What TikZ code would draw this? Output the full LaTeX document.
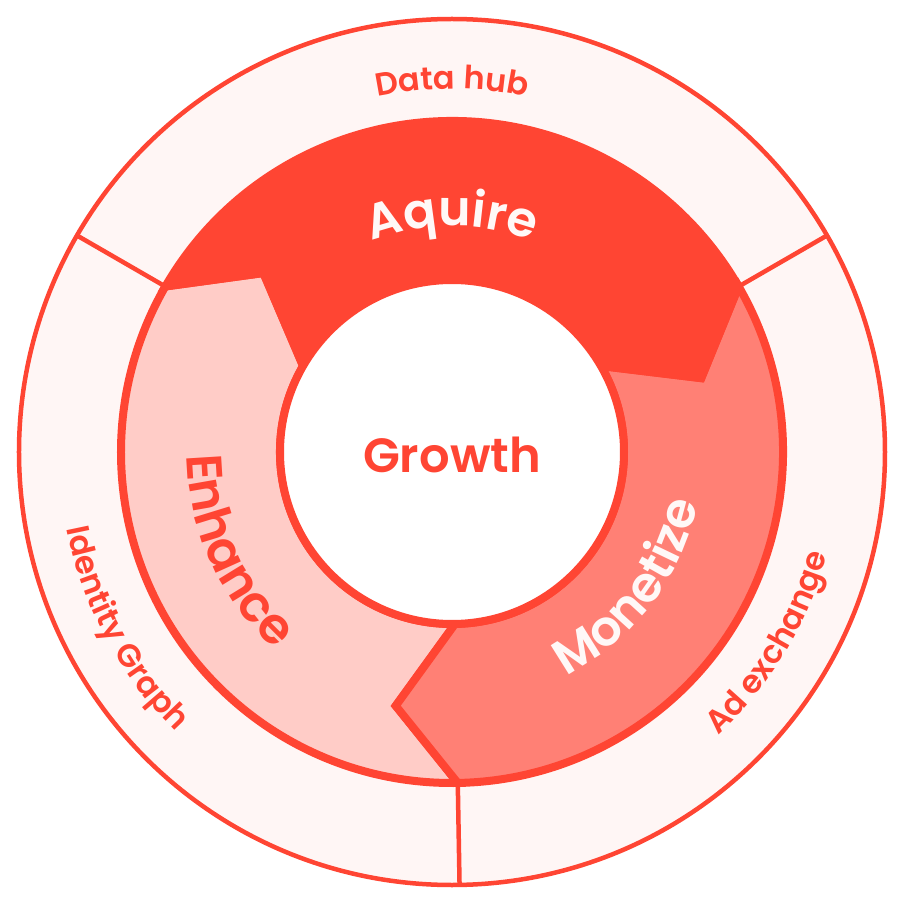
\documentclass[tikz,border=0pt]{standalone}
\usepackage{fontspec}
\setmainfont{Poppins}
\newfontfamily\semib{Poppins SemiBold}
\newfontfamily\medf{Poppins Medium}
\usetikzlibrary{decorations.text}
\definecolor{cred}{RGB}{255,69,51}
\definecolor{cmon}{RGB}{255,128,117}
\definecolor{cenh}{RGB}{255,204,199}
\definecolor{couter}{RGB}{255,246,245}
\definecolor{cwhite}{RGB}{255,248,247}
\newcommand\ringseg[3]{%
  \filldraw[segstyle, fill=#3] (#1:331) arc[start angle=#1, end angle=#2, radius=331]
    -- ({#2-13.5}:260) -- (#2:172) arc[start angle=#2, end angle=#1, radius=172]
    -- ({#1-13.5}:260) -- cycle;}
\begin{document}
\begin{tikzpicture}[x=1pt,y=1pt,line join=miter,
  segstyle/.style={draw=cred, line width=8},
  thinline/.style={draw=cred, line width=4.5}]
\useasboundingbox (-452,-453) rectangle (452,452);
\fill[white] (-452,-453) rectangle (452,452);
% outer ring
\filldraw[thinline, fill=couter] (0,0) circle[radius=433];
\foreach \a in {150,30,-89} \draw[thinline] (\a:333) -- (\a:433);
% middle ring segments
\ringseg{271}{150}{cenh}
\ringseg{30}{-89}{cmon}
\ringseg{150}{30}{cred}
% inner circle
\filldraw[draw=cred, line width=8, fill=white] (0,0) circle[radius=172];
\node[text=cred, font=\semib\fontsize{48}{48}\selectfont] (growth) at (0,-3) {Growth};
% ring labels
\path[decorate, decoration={text along path, text align=center, text color=cwhite,
  text={|\semib\fontsize{49}{49}\selectfont|Aquire}}]
  (150:226) arc[start angle=150, end angle=30, radius=226];
\path[decorate, decoration={text along path, text align=center, text color=cred,
  text={|\semib\fontsize{50}{50}\selectfont|Enhance}}]
  (144.5:265) arc[start angle=144.5, end angle=264.5, radius=265];
\path[decorate, decoration={text along path, text align=center, text color=cwhite,
  text={|\semib\fontsize{49}{49}\selectfont|Monetize}}]
  (-97.4:251) arc[start angle=-97.4, end angle=22.6, radius=251];
% outer labels
\path[decorate, decoration={text along path, text align=center, text color=cred,
  text={|\semib\fontsize{32}{32}\selectfont|Data hub}}]
  (150:363) arc[start angle=150, end angle=30, radius=363];
\path[decorate, decoration={text along path, text align=center, text color=cred,
  text={|\semib\fontsize{32}{32}\selectfont|Identity Graph}}]
  (148.3:393) arc[start angle=148.3, end angle=268.3, radius=393];
\path[decorate, decoration={text along path, text align=center, text color=cred,
  text={|\semib\fontsize{32}{32}\selectfont|Ad exchange}}]
  (-91.1:389) arc[start angle=-91.1, end angle=28.9, radius=389];
\end{tikzpicture}
\end{document}
